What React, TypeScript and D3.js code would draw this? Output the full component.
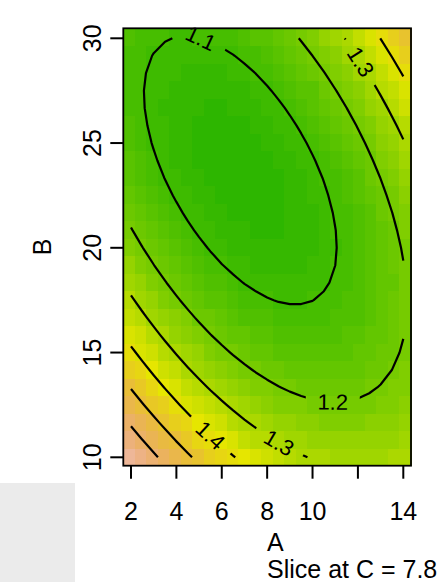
import React, { useMemo } from 'react';
import * as d3 from 'd3';

// Fitted response surface (slice at C = 7.8), coded units a = (A-8)/6, b = (B-20)/10
// terms: [1, a, b, a^2, b^2, a*b]
const surfaceTerms = ['1', 'a', 'b', 'a2', 'b2', 'ab'];
const surfaceCoef = [1.0665, -0.0106, -0.0973, 0.1487, 0.1815, 0.1873];
const codeCenterA = 8, codeHalfA = 6, codeCenterB = 20, codeHalfB = 10;

const rangeA = [2, 14];
const rangeB = [10, 30];
const levels = [1.1, 1.2, 1.3, 1.4, 1.5, 1.6, 1.7];
const xTicks = [2, 4, 6, 8, 10, 12, 14];
const xTickLabels = ['2', '4', '6', '8', '10', '', '14'];
const yTicks = [10, 15, 20, 25, 30];
const labelLevel = [1.1, 1.2, 1.3, 1.3, 1.4];
const labelA = [4.6, 10.9, 11.91, 8.52, 5.48];
const labelB = [29.54, 12.78, 28.73, 10.68, 11.02];
const zLimits = [0.93, 1.87];
const nGrid = 25;

const surf = (A: number, B: number) => {
  const a = (A - codeCenterA) / codeHalfA, b = (B - codeCenterB) / codeHalfB;
  const f: Record<string, number> = { '1': 1, a, b, a2: a * a, b2: b * b, ab: a * b };
  return surfaceTerms.reduce((s, t, i) => s + surfaceCoef[i] * f[t], 0);
};

function hsv(h: number, s: number, v: number) {
  const i = Math.floor(h * 6), f = h * 6 - i;
  const p = v * (1 - s), q = v * (1 - f * s), t = v * (1 - (1 - f) * s);
  let r = 0, g = 0, b = 0;
  switch (((i % 6) + 6) % 6) {
    case 0: r = v; g = t; b = p; break;
    case 1: r = q; g = v; b = p; break;
    case 2: r = p; g = v; b = t; break;
    case 3: r = p; g = q; b = v; break;
    case 4: r = t; g = p; b = v; break;
    default: r = v; g = p; b = q;
  }
  return d3.rgb(Math.round(r * 255), Math.round(g * 255), Math.round(b * 255)).formatHex();
}
function terrain(n: number) {
  const k = Math.floor(n / 2);
  const out: string[] = [];
  for (let i = 0; i < k; i++) {
    const t = i / (k - 1);
    out.push(hsv(4 / 12 - (2 / 12) * t, 1, 0.65 + 0.25 * t));
  }
  const m = n - k + 1;
  for (let i = 1; i < m; i++) {
    const t = i / (m - 1);
    out.push(hsv((2 / 12) * (1 - t), 1 - t, 0.9 + 0.05 * t));
  }
  return out;
}

function contourLines(z: number[][], xs: number[], ys: number[], level: number) {
  const nx = xs.length, ny = ys.length;
  const pts = new Map<string, [number, number]>();
  const adj = new Map<string, string[]>();
  const link = (a: string, b: string) => {
    if (!adj.has(a)) adj.set(a, []);
    if (!adj.has(b)) adj.set(b, []);
    adj.get(a)!.push(b); adj.get(b)!.push(a);
  };
  const pt = (key: string, x0: number, y0: number, v0: number, x1: number, y1: number, v1: number) => {
    if (!pts.has(key)) {
      const t = (level - v0) / (v1 - v0);
      pts.set(key, [x0 + t * (x1 - x0), y0 + t * (y1 - y0)]);
    }
    return key;
  };
  for (let j = 0; j < ny - 1; j++) for (let i = 0; i < nx - 1; i++) {
    const v0 = z[j][i], v1 = z[j][i + 1], v2 = z[j + 1][i + 1], v3 = z[j + 1][i];
    const s0 = v0 >= level, s1 = v1 >= level, s2 = v2 >= level, s3 = v3 >= level;
    const e: Record<string, string> = {};
    if (s0 !== s1) e.b = pt(`h${i}_${j}`, xs[i], ys[j], v0, xs[i + 1], ys[j], v1);
    if (s1 !== s2) e.r = pt(`v${i + 1}_${j}`, xs[i + 1], ys[j], v1, xs[i + 1], ys[j + 1], v2);
    if (s3 !== s2) e.t = pt(`h${i}_${j + 1}`, xs[i], ys[j + 1], v3, xs[i + 1], ys[j + 1], v2);
    if (s0 !== s3) e.l = pt(`v${i}_${j}`, xs[i], ys[j], v0, xs[i], ys[j + 1], v3);
    const ks = Object.keys(e);
    if (ks.length === 2) link(e[ks[0]], e[ks[1]]);
    else if (ks.length === 4) {
      const c = (v0 + v1 + v2 + v3) / 4 >= level;
      if (c === s0) { link(e.b, e.r); link(e.t, e.l); } else { link(e.b, e.l); link(e.r, e.t); }
    }
  }
  const used = new Set<string>();
  const lines: [number, number][][] = [];
  const walk = (start: string) => {
    const line: [number, number][] = [];
    let cur: string | undefined = start, prev: string | undefined;
    while (cur && !used.has(cur)) {
      used.add(cur);
      line.push(pts.get(cur)!);
      const nb: string[] = adj.get(cur)!;
      const next: string | undefined = nb.find((k) => k !== prev && !used.has(k));
      prev = cur; cur = next;
    }
    return line;
  };
  for (const [k, nb] of adj) if (nb.length === 1 && !used.has(k)) lines.push(walk(k));
  for (const k of adj.keys()) if (!used.has(k)) {
    const l = walk(k);
    l.push(pts.get(k)!);
    lines.push(l);
  }
  return lines;
}

// point at arc length s along a pixel polyline
function pointAt(pp: number[][], cum: number[], s: number) {
  const S = Math.max(0, Math.min(cum[cum.length - 1], s));
  let k = 1;
  while (k < cum.length - 1 && cum[k] < S) k++;
  const seg = cum[k] - cum[k - 1] || 1;
  const t = (S - cum[k - 1]) / seg;
  return [pp[k - 1][0] + t * (pp[k][0] - pp[k - 1][0]), pp[k - 1][1] + t * (pp[k][1] - pp[k - 1][1])];
}

export default function App() {
  const left = 123.3, right = 411, top = 28.3, bottom = 465.7;
  const x = d3.scaleLinear().domain(rangeA).range([131, 403.3]);
  const y = d3.scaleLinear().domain(rangeB).range([457.3, 38.3]);
  const palette = useMemo(() => terrain(50), []);
  const gx = d3.range(nGrid).map((i) => rangeA[0] + ((rangeA[1] - rangeA[0]) * i) / (nGrid - 1));
  const gy = d3.range(nGrid).map((j) => rangeB[0] + ((rangeB[1] - rangeB[0]) * j) / (nGrid - 1));
  const z = gy.map((B) => gx.map((A) => surf(A, B)));
  const colorIdx = d3.scaleQuantize<number>().domain(zLimits).range(d3.range(50));
  const color = (v: number) => palette[colorIdx(Math.max(zLimits[0], Math.min(zLimits[1], v)))];
  const cw = (right - left) / nGrid, ch = (bottom - top) / nGrid;
  const line = d3.line<[number, number]>().x((d) => x(d[0])).y((d) => y(d[1]));
  const allLines = levels.map((lv) => ({ lv, lines: contourLines(z, gx, gy, lv) }));

  const labelFont = 22;
  const half = 27;
  const labels = labelLevel.map((lv, i) => {
    const set = allLines.find((d) => Math.abs(d.lv - lv) < 1e-9)!;
    const tx = x(labelA[i]), ty = y(labelB[i]);
    let best = { d: Infinity, px: tx, py: ty, ang: 0 };
    for (const l of set.lines) {
      const pp = l.map((p) => [x(p[0]), y(p[1])]);
      const cum = [0];
      for (let k = 1; k < pp.length; k++) cum.push(cum[k - 1] + Math.hypot(pp[k][0] - pp[k - 1][0], pp[k][1] - pp[k - 1][1]));
      for (let k = 0; k < pp.length - 1; k++) {
        const [ax, ay] = pp[k], [bx, by] = pp[k + 1];
        const dx = bx - ax, dy = by - ay, L2 = dx * dx + dy * dy || 1;
        const t = Math.max(0, Math.min(1, ((tx - ax) * dx + (ty - ay) * dy) / L2));
        const qx = ax + t * dx, qy = ay + t * dy;
        const dd = Math.hypot(qx - tx, qy - ty);
        if (dd < best.d) {
          const s = cum[k] + t * Math.sqrt(L2);
          const p0 = pointAt(pp, cum, s - half), p1 = pointAt(pp, cum, s + half);
          let ang = (Math.atan2(p1[1] - p0[1], p1[0] - p0[0]) * 180) / Math.PI;
          if (ang > 90) ang -= 180; if (ang <= -90) ang += 180;
          best = { d: dd, px: qx, py: qy, ang };
        }
      }
    }
    return { lv, ...best };
  });

  return (
    <svg width={439} height={582} style={{ position: 'absolute', left: 0, top: 0 }} fontFamily="Liberation Sans, Arial, sans-serif">
      <rect x={0} y={0} width={439} height={582} fill="#ffffff" />
      <rect x={0} y={483} width={75} height={99} fill="#ebebeb" />
      <defs>
        <mask id="lblmask" maskUnits="userSpaceOnUse" x={0} y={0} width={439} height={582}>
          <rect x={0} y={0} width={439} height={582} fill="white" />
          {labels.map((l, i) => (
            <rect key={i} x={-half} y={-11} width={2 * half} height={22} fill="black" transform={`translate(${l.px},${l.py}) rotate(${l.ang})`} />
          ))}
        </mask>
        <clipPath id="plotclip"><rect x={left} y={top} width={right - left} height={bottom - top} /></clipPath>
      </defs>
      <g shapeRendering="crispEdges">
        {z.map((row, j) => row.map((v, i) => (
          <rect key={`${i}-${j}`} x={left + i * cw} y={bottom - (j + 1) * ch} width={cw + 0.5} height={ch + 0.5} fill={color(v)} />
        )))}
      </g>
      <g mask="url(#lblmask)" clipPath="url(#plotclip)">
        {allLines.map(({ lv, lines }) => lines.map((l, k) => (
          <path key={`${lv}-${k}`} d={line(l) || ''} fill="none" stroke="#000" strokeWidth={2.2} strokeLinejoin="round" />
        )))}
      </g>
      {labels.map((l, i) => (
        <text key={i} x={0} y={0} transform={`translate(${l.px},${l.py}) rotate(${l.ang})`} textAnchor="middle" dominantBaseline="central" fontSize={labelFont} fill="#000">{String(l.lv)}</text>
      ))}
      <rect x={left} y={top} width={right - left} height={bottom - top} fill="none" stroke="#000" strokeWidth={1.8} />
      {xTicks.map((t, i) => (
        <g key={t}>
          <line x1={x(t)} x2={x(t)} y1={bottom} y2={bottom + 13} stroke="#000" strokeWidth={2} />
          {xTickLabels[i] && <text x={x(t)} y={520} textAnchor="middle" fontSize={25}>{xTickLabels[i]}</text>}
        </g>
      ))}
      {yTicks.map((t) => (
        <g key={t}>
          <line x1={left} x2={left - 13} y1={y(t)} y2={y(t)} stroke="#000" strokeWidth={2} />
          <text transform={`translate(101,${y(t)}) rotate(-90)`} textAnchor="middle" fontSize={25}>{t}</text>
        </g>
      ))}
      <text x={267} y={551} fontSize={25}>A</text>
      <text x={267} y={578} fontSize={25}>Slice at C = 7.8</text>
      <text transform={`translate(51,${(top + bottom) / 2}) rotate(-90)`} textAnchor="middle" fontSize={25}>B</text>
    </svg>
  );
}
